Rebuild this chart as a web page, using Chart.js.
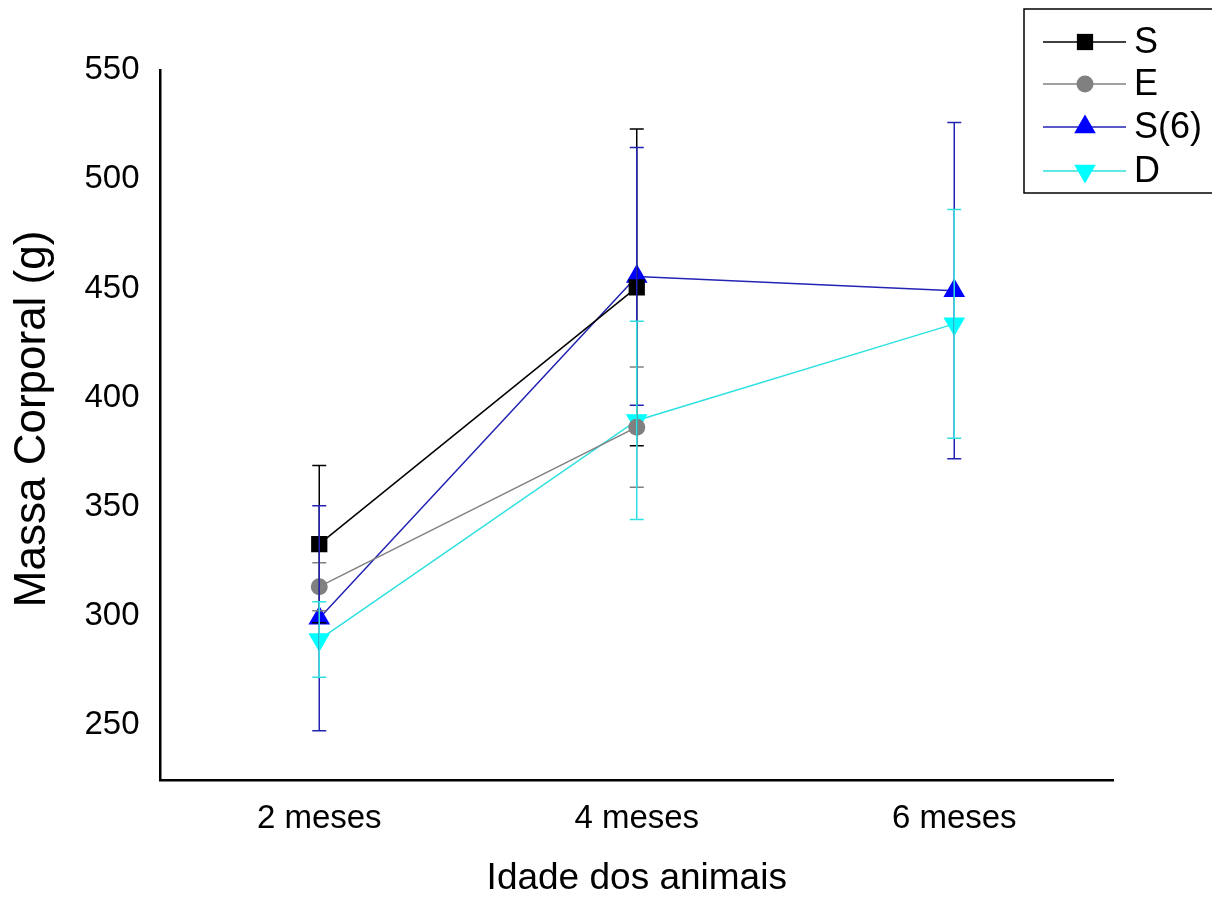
<!DOCTYPE html>
<html>
<head>
<meta charset="utf-8">
<script src="https://cdn.jsdelivr.net/npm/chart.js"></script>
<style>
  html, body { margin: 0; padding: 0; background: #fff; }
  #wrap { width: 1212px; height: 916px; }
</style>
</head>
<body>
<div id="wrap"><canvas id="chart" width="1212" height="916"></canvas></div>
<script>
// Data
const categories = ['2 meses', '4 meses', '6 meses'];
const yTicks = [250, 300, 350, 400, 450, 500, 550];

const sMean = [333, 450.5, null];
const sErr = [36, 72.5, null];
const eMean = [313.5, 386.5, null];
const eErr = [11, 27.5, null];
const s6Mean = [299, 455.5, 449];
const s6Err = [51.5, 59, 77];
const dMean = [289.3, 389.6, 433.8];
const dErr = [17.3, 45.4, 52.4];

const FONT = "'Liberation Sans', Arial, sans-serif";

function series(label, data, err, line, fill, style, radius, rotation) {
    return {
        label,
        data,
        errors: err,
        borderColor: line,
        backgroundColor: fill,
        pointBackgroundColor: fill,
        pointBorderColor: fill,
        pointStyle: style,
        pointRadius: radius,
        pointHoverRadius: radius,
        pointRotation: rotation || 0,
        pointBorderWidth: 0,
        borderWidth: 1.5,
        tension: 0,
        spanGaps: false
    };
}

const datasets = [
    series('S', sMean, sErr, '#000000', '#000000', 'rect', 11.5),
    series('E', eMean, eErr, '#808080', '#808080', 'circle', 8.5),
    series('S(6)', s6Mean, s6Err, '#2323b4', '#0000ff', 'triangle', 12.5),
    series('D', dMean, dErr, '#2fe0e0', '#00ffff', 'triangle', 12.5, 180)
];

// Error bars, drawn after every dataset
const errorBars = {
    id: 'errorBars',
    afterDatasetsDraw(chart) {
        const ctx = chart.ctx;
        const y = chart.scales.y;
        chart.data.datasets.forEach((ds, i) => {
            const meta = chart.getDatasetMeta(i);
            ctx.save();
            ctx.strokeStyle = ds.borderColor;
            ctx.lineWidth = 1.5;
            meta.data.forEach((pt, j) => {
                const m = ds.data[j];
                const e = ds.errors[j];
                if (m == null || e == null) return;
                const top = y.getPixelForValue(m + e);
                const bot = y.getPixelForValue(m - e);
                ctx.beginPath();
                ctx.moveTo(pt.x, top);
                ctx.lineTo(pt.x, bot);
                ctx.moveTo(pt.x - 7, top);
                ctx.lineTo(pt.x + 7, top);
                ctx.moveTo(pt.x - 7, bot);
                ctx.lineTo(pt.x + 7, bot);
                ctx.stroke();
            });
            ctx.restore();
        });
    }
};

// Legend box with line + marker per series
const boxLegend = {
    id: 'boxLegend',
    afterDraw(chart) {
        const ctx = chart.ctx;
        ctx.save();
        ctx.strokeStyle = '#000';
        ctx.lineWidth = 1.5;
        ctx.strokeRect(1024, 9, 200, 184);
        const rows = [42, 84, 127, 171];
        chart.data.datasets.forEach((ds, i) => {
            const yy = rows[i];
            ctx.strokeStyle = ds.borderColor;
            ctx.lineWidth = 1.5;
            ctx.beginPath();
            ctx.moveTo(1043, yy);
            ctx.lineTo(1126, yy);
            ctx.stroke();
            ctx.fillStyle = ds.pointBackgroundColor;
            ctx.strokeStyle = ds.pointBackgroundColor;
            ctx.lineWidth = 0.01;
            Chart.helpers.drawPoint(ctx, {
                pointStyle: ds.pointStyle,
                radius: ds.pointRadius,
                rotation: ds.pointRotation,
                borderWidth: 0
            }, 1085, yy);
            ctx.fillStyle = '#000';
            ctx.font = '36px ' + FONT;
            ctx.textAlign = 'left';
            ctx.textBaseline = 'middle';
            ctx.fillText(ds.label, 1134, yy + 1);
        });
        ctx.restore();
    }
};

new Chart(document.getElementById('chart'), {
    type: 'line',
    data: { labels: categories, datasets },
    options: {
        responsive: false,
        animation: false,
        layout: { padding: { left: 0, top: 70, right: 99, bottom: 0 } },
        plugins: { legend: { display: false }, tooltip: { enabled: false } },
        scales: {
            x: {
                offset: true,
                grid: { display: false, drawTicks: false },
                border: { display: true, color: '#000', width: 2.5 },
                ticks: { color: '#000', padding: 19, font: { family: FONT, size: 33 } },
                title: {
                    display: true, text: 'Idade dos animais', color: '#000',
                    font: { family: FONT, size: 37 }, padding: { top: 0, bottom: 15 }
                },
                afterFit(scale) { scale.height = 136; }
            },
            y: {
                min: 225,
                max: 550,
                grid: { display: false, drawTicks: false },
                border: { display: true, color: '#000', width: 2.5 },
                ticks: { color: '#000', padding: 21, font: { family: FONT, size: 33 } },
                afterBuildTicks(scale) { scale.ticks = yTicks.map(v => ({ value: v })); },
                title: {
                    display: true, text: ' Massa Corporal (g)', color: '#000',
                    font: { family: FONT, size: 44 }, padding: { top: 6, bottom: 0 }
                },
                afterFit(scale) { scale.width = 160.5; }
            }
        }
    },
    plugins: [errorBars, boxLegend]
});
</script>
</body>
</html>
